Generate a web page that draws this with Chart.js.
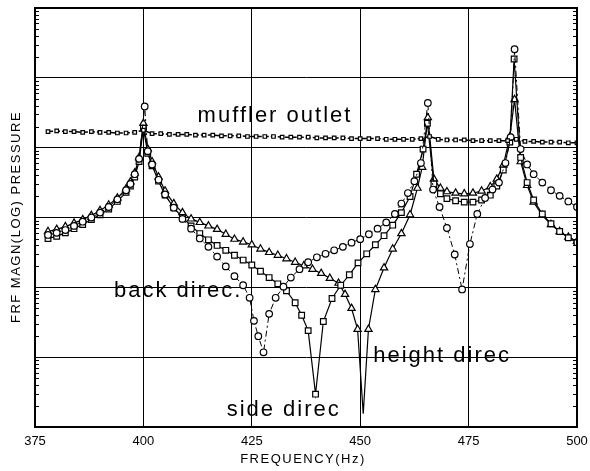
<!DOCTYPE html>
<html>
<head>
<meta charset="utf-8">
<script src="https://cdn.jsdelivr.net/npm/chart.js@4/dist/chart.umd.min.js"></script>
<style>
  body { margin: 0; background: #fff; }
  #wrap { width: 590px; height: 471px; }
</style>
</head>
<body>
<div id="wrap"><canvas id="myCanvas"></canvas></div>
<script>
// frequency (Hz) and level (log decades above the bottom of the frame)
const mufflerFreq = [378, 380, 382, 384, 386, 388, 390, 392, 394, 396, 398, 400, 402, 404, 406, 408, 410, 412, 414, 416, 418, 420, 422, 424, 426, 428, 430, 432, 434, 436, 438, 440, 442, 444, 446, 448, 450, 452, 454, 456, 458, 460, 462, 464, 466, 468, 470, 472, 474, 476, 478, 480, 482, 484, 486, 488, 490, 492, 494, 496, 498, 500];
const mufflerLevel = [4.23, 4.24, 4.23, 4.23, 4.22, 4.23, 4.22, 4.22, 4.21, 4.21, 4.22, 4.25, 4.20, 4.20, 4.19, 4.19, 4.19, 4.18, 4.18, 4.18, 4.17, 4.17, 4.17, 4.16, 4.16, 4.16, 4.16, 4.15, 4.15, 4.15, 4.15, 4.14, 4.14, 4.14, 4.14, 4.13, 4.13, 4.13, 4.13, 4.12, 4.12, 4.12, 4.12, 4.13, 4.16, 4.12, 4.11, 4.11, 4.11, 4.10, 4.10, 4.10, 4.10, 4.10, 4.12, 4.09, 4.09, 4.08, 4.08, 4.08, 4.07, 4.07];

const sideFreq = [378, 380, 382, 384, 386, 388, 390, 392, 394, 396, 397, 398, 399, 400, 401, 402, 403.5, 405, 407, 409, 411, 413, 415, 417, 419, 421, 423, 425, 427, 429, 431, 433, 435, 436.5, 438, 439.7, 441.5, 443.5, 445.5, 447.5, 449.5, 451.5, 453.5, 455.5, 457.5, 459.5, 461.5, 463, 464.5, 465.5, 467, 468.5, 470, 472, 474, 476, 478, 480, 481.5, 483, 484.5, 485.5, 487, 488.5, 490, 492, 494, 496, 498, 500];
const sideLevel = [2.70, 2.73, 2.78, 2.84, 2.90, 2.97, 3.04, 3.12, 3.23, 3.36, 3.45, 3.58, 3.80, 4.28, 3.92, 3.74, 3.52, 3.32, 3.14, 3.00, 2.88, 2.77, 2.68, 2.60, 2.53, 2.46, 2.39, 2.32, 2.23, 2.14, 2.05, 1.95, 1.78, 1.60, 1.38, 0.47, 1.51, 1.84, 2.03, 2.18, 2.35, 2.48, 2.61, 2.74, 2.89, 3.07, 3.30, 3.62, 3.98, 4.35, 3.48, 3.34, 3.27, 3.24, 3.22, 3.22, 3.25, 3.32, 3.45, 3.68, 4.08, 5.27, 3.86, 3.50, 3.25, 3.05, 2.91, 2.80, 2.71, 2.64];

const heightFreq = [378, 380, 382, 384, 386, 388, 390, 392, 394, 396, 397, 398, 399, 400, 401, 402, 403.5, 405, 407, 409, 411, 413, 415, 417, 419, 421, 423, 425, 427, 429, 431, 433, 435, 437, 439, 441, 443, 445, 446.5, 448, 449.4, 450.7, 451.9, 453.5, 455.5, 457.5, 459.5, 461.5, 463.2, 464.3, 465.6, 467, 468.5, 470, 472, 474, 476, 478, 480, 481.5, 483, 484.5, 485.6, 487, 488.5, 490, 492, 494, 496, 498, 500];
const heightLevel = [2.80, 2.83, 2.87, 2.92, 2.97, 3.03, 3.10, 3.18, 3.28, 3.41, 3.51, 3.64, 3.86, 4.35, 3.98, 3.80, 3.58, 3.38, 3.20, 3.07, 2.98, 2.93, 2.88, 2.83, 2.76, 2.69, 2.65, 2.61, 2.55, 2.50, 2.46, 2.41, 2.36, 2.31, 2.26, 2.20, 2.13, 2.06, 1.90, 1.70, 1.40, 0.19, 1.40, 1.97, 2.28, 2.55, 2.77, 3.04, 3.42, 3.72, 4.43, 3.55, 3.42, 3.37, 3.35, 3.34, 3.35, 3.38, 3.44, 3.55, 3.75, 4.15, 4.69, 3.80, 3.46, 3.22, 3.03, 2.90, 2.80, 2.72, 2.66];

const backFreq = [378, 380, 382, 384, 386, 388, 390, 392, 394, 396, 397, 398, 399, 400.3, 401, 402, 403.5, 405, 407, 409, 411, 413, 415, 417, 419, 421, 423, 424.5, 425.5, 426.5, 427.7, 429, 430.5, 432.3, 434, 436, 438, 440, 442, 444, 446, 448, 450, 452, 454, 456, 458, 459.5, 461, 462.5, 464, 465.6, 466.8, 468.3, 470, 471.8, 473.5, 475.3, 477, 478.8, 480.5, 482, 483.5, 484.7, 485.6, 487, 488.5, 490, 492, 494, 496, 498, 500];
const backLevel = [2.75, 2.78, 2.82, 2.88, 2.94, 3.00, 3.07, 3.15, 3.26, 3.39, 3.48, 3.62, 3.84, 4.59, 3.95, 3.76, 3.54, 3.33, 3.14, 2.98, 2.84, 2.70, 2.58, 2.44, 2.30, 2.16, 2.03, 1.85, 1.52, 1.30, 1.07, 1.62, 1.85, 2.01, 2.14, 2.26, 2.36, 2.43, 2.48, 2.53, 2.58, 2.64, 2.69, 2.76, 2.84, 2.93, 3.05, 3.20, 3.35, 3.52, 3.78, 4.64, 3.40, 3.15, 2.85, 2.47, 1.97, 2.62, 3.05, 3.28, 3.40, 3.50, 3.78, 4.15, 5.41, 3.98, 3.76, 3.62, 3.50, 3.39, 3.31, 3.23, 3.15];

const xTicks = [375, 400, 425, 450, 475, 500];

// curve names written on the plot, placed in axis units
const curveNotes = [
  { text: "muffler outlet", x: 412.5, y: 4.37 },
  { text: "back direc.", x: 393.2, y: 1.86 },
  { text: "side direc", x: 419.2, y: 0.16 },
  { text: "height direc", x: 453.0, y: 0.93 }
];

function pts(xs, ys) {
  return xs.map((x, i) => ({ x: x, y: ys[i] }));
}

const FONT = "'Liberation Sans', Arial, sans-serif";

const decor = {
  id: "decor",
  afterDatasetsDraw(chart) {
    const ctx = chart.ctx;
    const xs = chart.scales.x, ys = chart.scales.y;
    const a = chart.chartArea;
    ctx.save();
    // heavy frame
    ctx.strokeStyle = "#000";
    ctx.lineWidth = 2;
    ctx.strokeRect(a.left, a.top, a.right - a.left, a.bottom - a.top);
    // log minor ticks on left and right frame
    ctx.lineWidth = 1;
    for (let d = 0; d < 6; d++) {
      for (let k = 2; k <= 9; k++) {
        const yy = Math.round(ys.getPixelForValue(d + Math.log10(k))) + 0.5;
        ctx.beginPath();
        ctx.moveTo(a.left, yy); ctx.lineTo(a.left + 4, yy);
        ctx.moveTo(a.right, yy); ctx.lineTo(a.right - 4, yy);
        ctx.stroke();
      }
    }
    // curve names
    ctx.fillStyle = "#000";
    ctx.font = "22px " + FONT;
    ctx.letterSpacing = "2px";
    ctx.textBaseline = "alphabetic";
    ctx.textAlign = "left";
    curveNotes.forEach(n => {
      ctx.fillText(n.text, xs.getPixelForValue(n.x), ys.getPixelForValue(n.y));
    });
    // axis titles
    ctx.font = "13px " + FONT;
    ctx.letterSpacing = "1.5px";
    ctx.textAlign = "center";
    ctx.fillText("FREQUENCY(Hz)", 303, 463);
    ctx.translate(20, 217);
    ctx.rotate(-Math.PI / 2);
    ctx.fillText("FRF MAGN(LOG) PRESSURE", 0, 0);
    ctx.restore();
  }
};

const lineSet = (label, data, style, radius, dash, width) => ({
  label: label,
  data: data,
  borderColor: "#000",
  backgroundColor: "#fff",
  borderWidth: width,
  borderDash: dash,
  pointStyle: style,
  pointRadius: ctx => (ctx.raw && ctx.raw.y < 0.3 ? 0 : radius),
  pointBorderColor: "#000",
  pointBackgroundColor: "#fff",
  pointBorderWidth: 1.2,
  tension: 0,
  fill: false
});

new Chart(document.getElementById("myCanvas"), {
  type: "line",
  data: {
    datasets: [
      lineSet("muffler outlet", pts(mufflerFreq, mufflerLevel), "rect", 2.5, [5, 2], 1.5),
      lineSet("back direc", pts(backFreq, backLevel), "circle", 3.3, [6, 3, 2, 3], 1),
      lineSet("side direc", pts(sideFreq, sideLevel), "rect", 4, [], 1.2),
      lineSet("height direc", pts(heightFreq, heightLevel), "triangle", 4.2, [], 1.2)
    ]
  },
  options: {
    responsive: true,
    maintainAspectRatio: false,
    animation: false,
    layout: { padding: { left: 0, right: 13, top: 8, bottom: 0 } },
    plugins: { legend: { display: false }, tooltip: { enabled: false } },
    scales: {
      x: {
        type: "linear",
        min: 375,
        max: 500,
        afterBuildTicks: s => { s.ticks = xTicks.map(v => ({ value: v })); },
        afterFit: s => { s.height = 44; s.paddingLeft = 0; s.paddingRight = 0; },
        grid: { color: "#000", lineWidth: 1, drawTicks: false },
        border: { color: "#000", width: 2 },
        ticks: { color: "#000", padding: 7, font: { family: FONT, size: 13 } }
      },
      y: {
        type: "linear",
        min: 0,
        max: 6,
        afterFit: s => { s.width = 35; },
        grid: { color: "#000", lineWidth: 1, drawTicks: false },
        border: { color: "#000", width: 2 },
        ticks: { display: false, stepSize: 1 }
      }
    }
  },
  plugins: [decor]
});
</script>
</body>
</html>
